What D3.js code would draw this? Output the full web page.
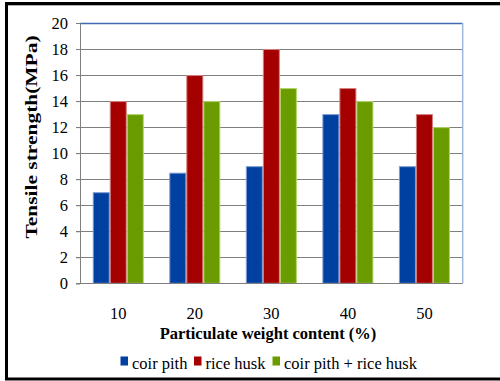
<!DOCTYPE html>
<html>
<head>
<meta charset="utf-8">
<script src="https://cdn.jsdelivr.net/npm/d3@7"></script>
<style>
  html, body { margin: 0; padding: 0; background: #fff; }
  svg { display: block; }
</style>
</head>
<body>
<svg id="chart" width="500" height="381"></svg>
<script>
// Tensile strength by particulate weight content
const categories = ["10", "20", "30", "40", "50"];
const seriesNames = ["coir pith", "rice husk", "coir pith + rice husk"];
const coirPith = [7, 8.5, 9, 13, 9];
const riceHusk = [14, 16, 18, 15, 13];
const coirPithRiceHusk = [13, 14, 15, 14, 12];
const yTicks = [0, 2, 4, 6, 8, 10, 12, 14, 16, 18, 20];

const seriesValues = [coirPith, riceHusk, coirPithRiceHusk];
const fills = ["#0040a0", "#a40000", "#6a9c00"];
const edges = ["#7d9bd3", "#d47e7e", "#b0d46a"];
const SERIF = '"Liberation Serif"';
const FS = "16.5px";

const svg = d3.select("#chart");
const plot = { left: 80, top: 23, right: 462.7, bottom: 283.3 };

// outer frame
svg.append("rect")
  .attr("x", 6.5).attr("y", 3.5)
  .attr("width", 500).attr("height", 375.5)
  .attr("fill", "none").attr("stroke", "#000").attr("stroke-width", 3);
svg.append("line")
  .attr("x1", 8).attr("x2", 500).attr("y1", 5.5).attr("y2", 5.5)
  .attr("stroke", "#b0b0b0").attr("stroke-width", 1);

const x0 = d3.scaleBand().domain(categories).range([plot.left, plot.right]).paddingInner(0).paddingOuter(0);
const barW = x0.bandwidth() / 4.5;
const x1 = d3.scaleBand().domain(d3.range(seriesNames.length))
  .range([(x0.bandwidth() - 3 * barW) / 2, (x0.bandwidth() + 3 * barW) / 2]);
const y = d3.scaleLinear().domain([0, 20]).range([plot.bottom, plot.top]);

// gridlines
svg.append("g")
  .selectAll("line")
  .data(yTicks.filter(t => t > 0 && t < 20))
  .join("line")
  .attr("x1", plot.left - 4).attr("x2", plot.right)
  .attr("y1", d => Math.round(y(d)) + 0.5).attr("y2", d => Math.round(y(d)) + 0.5)
  .attr("stroke", "#7f7f7f").attr("stroke-width", 1);

// plot frame: blue top, light blue right
svg.append("line")
  .attr("x1", plot.left).attr("x2", plot.right)
  .attr("y1", Math.round(y(20)) + 0.5).attr("y2", Math.round(y(20)) + 0.5)
  .attr("stroke", "#3d6ab3").attr("stroke-width", 1.5);
svg.append("line")
  .attr("x1", plot.right).attr("x2", plot.right)
  .attr("y1", y(20)).attr("y2", y(0))
  .attr("stroke", "#9fb8de").attr("stroke-width", 1.5);

// bars
const groups = svg.append("g").selectAll("g")
  .data(categories)
  .join("g")
  .attr("transform", d => `translate(${x0(d)},0)`);
groups.selectAll("rect")
  .data((d, i) => seriesValues.map((vals, s) => ({ s, v: vals[i] })))
  .join("rect")
  .attr("x", d => x1(d.s) + 0.5)
  .attr("width", barW - 1)
  .attr("y", d => y(d.v) + 0.5)
  .attr("height", d => y(0) - y(d.v) - 0.5)
  .attr("fill", d => fills[d.s])
  .attr("stroke", d => edges[d.s])
  .attr("stroke-width", 1);

// y axis
const yAxis = d3.axisLeft(y).tickValues(yTicks).tickSize(4).tickPadding(6).tickFormat(d3.format("d"));
const gy = svg.append("g").attr("transform", `translate(${plot.left},0)`).call(yAxis)
  .attr("font-family", null).attr("font-size", null);
gy.select(".domain").attr("stroke", "#7f7f7f");
gy.selectAll(".tick line").attr("stroke", "#7f7f7f");
gy.selectAll(".tick text")
  .style("font-family", SERIF)
  .style("font-size", FS)
  .attr("fill", "#000")
  .attr("dx", "-2");

// x axis line
svg.append("line")
  .attr("x1", plot.left - 4).attr("x2", plot.right)
  .attr("y1", Math.round(y(0)) + 0.5).attr("y2", Math.round(y(0)) + 0.5)
  .attr("stroke", "#7f7f7f").attr("stroke-width", 1);

// x tick labels
svg.append("g").selectAll("text")
  .data(categories)
  .join("text")
  .attr("x", d => x0(d) + x0.bandwidth() / 2)
  .attr("y", 318.5)
  .attr("text-anchor", "middle")
  .style("font-family", SERIF).style("font-size", FS)
  .text(d => d);

// axis titles
svg.append("text")
  .attr("x", 268).attr("y", 339)
  .attr("text-anchor", "middle")
  .style("font-family", SERIF).style("font-size", FS).style("font-weight", "bold")
  .text("Particulate weight content (%)");
svg.append("text")
  .attr("transform", "translate(36.5,137) rotate(-90) scale(1.3,1)")
  .attr("text-anchor", "middle")
  .style("font-family", SERIF).style("font-size", FS).style("font-weight", "bold")
  .text("Tensile strength(MPa)");

// legend
const legendX = [120.5, 194, 272.5];
const legend = svg.append("g").selectAll("g")
  .data(seriesNames)
  .join("g")
  .attr("transform", (d, i) => `translate(${legendX[i]},0)`);
legend.append("rect")
  .attr("x", 0).attr("y", 356.5)
  .attr("width", 7.5).attr("height", 9)
  .attr("fill", (d, i) => fills[i]);
legend.append("text")
  .attr("x", 11.5).attr("y", 369)
  .style("font-family", SERIF).style("font-size", FS)
  .text(d => d);
</script>
</body>
</html>
